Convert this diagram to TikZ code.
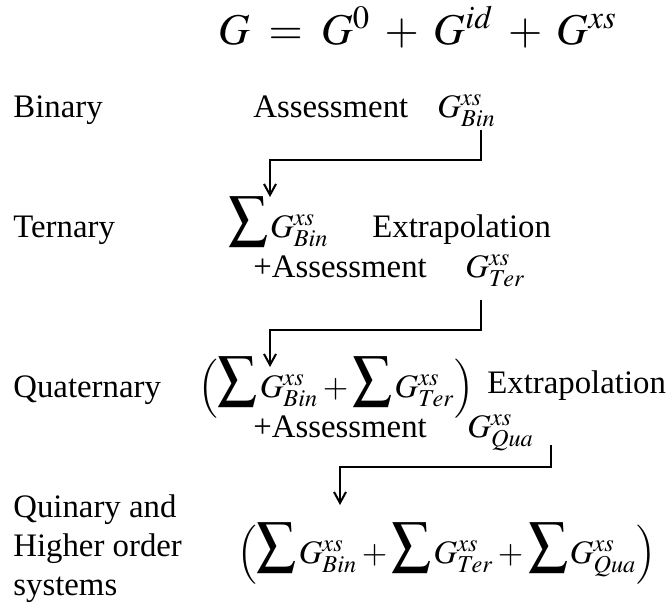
\documentclass[tikz,border=0pt]{standalone}
\usepackage{mathptmx}
\usepackage[no-math]{fontspec}
\setmainfont{Liberation Serif}
\usetikzlibrary{arrows.meta,calc}
% large summation sign as in the source
\newcommand{\Gsum}{{\raisebox{-5pt}{\resizebox{20pt}{25pt}{\raisebox{\depth}{$\sum$}}}}\mkern1mu}
\tikzset{
  lbl/.style={anchor=base west, inner sep=0pt, font=\fontsize{16.4}{19.5}\selectfont},
  big/.style={anchor=base west, inner sep=0pt, font=\fontsize{22}{26}\selectfont},
  flow/.style={line width=1pt, -{Straight Barb[length=5.5pt,width=6pt]}},
}
\begin{document}
\begin{tikzpicture}[x=0.5pt, y=-0.5pt]
  \useasboundingbox (0,0) rectangle (671,612);
  % title
  \node[big] (eq) at (218,44)
    {$G\mkern3.5mu=\mkern3.5mu G^{0}\mkern3.5mu+\mkern3.5mu G^{id}\mkern3.5mu+\mkern3.5mu G^{xs}$};
  % binary
  \node[lbl] (bin) at (13,117) {Binary};
  \node[lbl] (asbin) at (253,117) {Assessment};
  \node[lbl] (gbin) at (437,117) {$G^{xs}_{Bin}$};
  % ternary
  \node[lbl] (ter) at (13,237) {Ternary};
  \node[lbl] (sumbin) at (228,237) {$\Gsum G^{xs}_{Bin}$};
  \node[lbl] (exter) at (372,237) {Extrapolation};
  \node[lbl] (aster) at (253,277) {+Assessment};
  \node[lbl] (gter) at (465,277) {$G^{xs}_{Ter}$};
  % quaternary
  \node[lbl] (qua) at (13,397) {Quaternary};
  \node[lbl] (sumter) at (198,397)
    {$\left(\Gsum G^{xs}_{Bin}+\Gsum G^{xs}_{Ter}\right)$};
  \node[lbl] (exqua) at (487,393) {Extrapolation};
  \node[lbl] (asqua) at (253,437) {+Assessment};
  \node[lbl] (gqua) at (467,437) {$G^{xs}_{Qua}$};
  % quinary and higher
  \node[lbl, align=left] (qui) at (13,595) {Quinary and\\Higher order\\systems};
  \node[lbl] (sumqua) at (237,563)
    {$\left(\Gsum G^{xs}_{Bin}+\Gsum G^{xs}_{Ter}+\Gsum G^{xs}_{Qua}\right)$};
  % arrow ends
  \coordinate (tip1) at (270,197);
  \coordinate (tip2) at (270,367);
  \coordinate (tip3) at (340,505);
  \draw[flow] ($(gbin.base west)+(44,13)$) -- ++(0,30) -| (tip1);
  \draw[flow] ($(gter.base west)+(16,23)$) -- ++(0,30) -| (tip2);
  \draw[flow] ($(gqua.base west)+(84,8)$) -- ++(0,22) -| (tip3);
\end{tikzpicture}
\end{document}
